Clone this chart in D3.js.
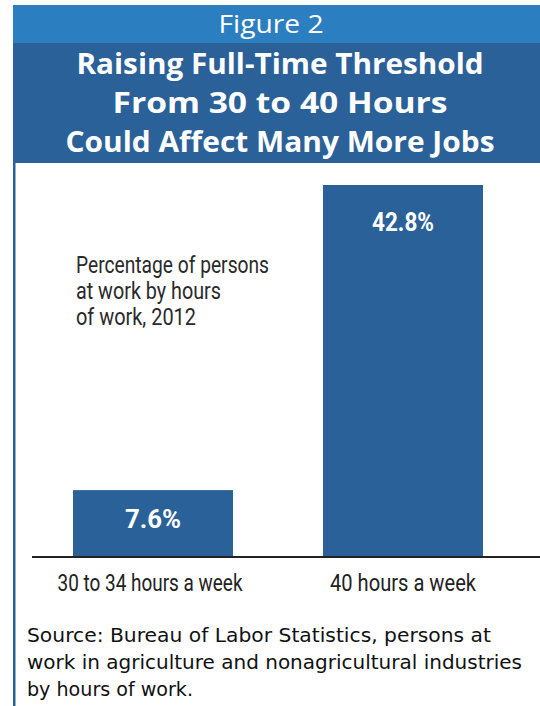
<!DOCTYPE html>
<html><head><meta charset="utf-8">
<script src="https://cdn.jsdelivr.net/npm/d3@7"></script>
<style>html,body{margin:0;padding:0;background:#fff;}</style>
</head><body>
<svg id="c" width="540" height="706"></svg>
<script>
const categories = ["30 to 34 hours a week", "40 hours a week"];
const values = [7.6, 42.8];
const valueLabels = ["7.6%", "42.8%"];
const figureLabel = "Figure 2";
const titleLines = ["Raising Full-Time Threshold", "From 30 to 40 Hours", "Could Affect Many More Jobs"];
const noteLines = ["Percentage of persons", "at work by hours", "of work, 2012"];
const sourceLines = ["Source: Bureau of Labor Statistics, persons at", "work in agriculture and nonagricultural industries", "by hours of work."];

const svg = d3.select("#c");
const narrow = "'Liberation Sans Narrow','Arial Narrow','Roboto','Noto Sans',sans-serif";

// header bands
svg.append("rect").attr("x", 13).attr("y", 5).attr("width", 527).attr("height", 38).attr("fill", "#2b7fc0");
svg.append("rect").attr("x", 13).attr("y", 43).attr("width", 527).attr("height", 120).attr("fill", "#2a6199");
svg.append("rect").attr("x", 13).attr("y", 163).attr("width", 2.5).attr("height", 543).attr("fill", "#2a6199");

svg.append("text").attr("x", 271).attr("y", 33).attr("text-anchor", "middle")
  .attr("fill", "#fff").attr("font-family", "'Open Sans','Noto Sans',sans-serif")
  .attr("font-size", 26).attr("textLength", 105).attr("lengthAdjust", "spacingAndGlyphs").text(figureLabel);

const titleW = [407, 335, 429];
svg.selectAll("text.title").data(titleLines).join("text").attr("class", "title")
  .attr("x", 280).attr("y", (d, i) => 74 + i * 39).attr("text-anchor", "middle")
  .attr("fill", "#fff").attr("font-family", "'Open Sans','Noto Sans',sans-serif")
  .attr("font-weight", "700").attr("font-size", 29)
  .attr("textLength", (d, i) => titleW[i]).attr("lengthAdjust", "spacingAndGlyphs")
  .text(d => d);

// chart
const x = d3.scaleBand().domain(categories).range([24, 532]).paddingInner(0.36).paddingOuter(0.196);
const y = d3.scaleLinear().domain([0, 42.8]).range([556, 185]);

svg.selectAll("rect.bar").data(values).join("rect").attr("class", "bar")
  .attr("x", (d, i) => x(categories[i])).attr("width", x.bandwidth())
  .attr("y", d => y(d)).attr("height", d => y(0) - y(d))
  .attr("fill", "#2a6199");

const labelOffset = [38, 46];
const valW = [56, 62];
svg.selectAll("text.val").data(values).join("text").attr("class", "val")
  .attr("x", (d, i) => x(categories[i]) + x.bandwidth() / 2).attr("y", (d, i) => y(d) + labelOffset[i])
  .attr("text-anchor", "middle").attr("fill", "#fff")
  .attr("font-family", narrow).attr("font-weight", "bold").attr("font-size", 25)
  .attr("textLength", (d, i) => valW[i]).attr("lengthAdjust", "spacingAndGlyphs")
  .text((d, i) => valueLabels[i]);

const xAxis = d3.axisBottom(x).tickSize(0).tickPadding(0);
const ax = svg.append("g").attr("transform", `translate(0,${y(0)})`).call(xAxis);
ax.select(".domain").attr("stroke", "#222").attr("stroke-width", 2).attr("d", "M32,1H540");
const labW = [185, 146];
const labDx = [-3, 0];
ax.selectAll(".tick text").attr("font-family", narrow).attr("font-size", 24).attr("fill", "#222")
  .attr("dy", 0).attr("y", 35)
  .attr("transform", (d, i) => `translate(${labDx[i]},0)`)
  .attr("textLength", (d, i) => labW[i]).attr("lengthAdjust", "spacingAndGlyphs");

const noteW = [193, 145, 120];
svg.selectAll("text.note").data(noteLines).join("text").attr("class", "note")
  .attr("x", 76).attr("y", (d, i) => 273 + i * 26)
  .attr("fill", "#2a2a2a").attr("font-family", narrow).attr("font-size", 24)
  .attr("textLength", (d, i) => noteW[i]).attr("lengthAdjust", "spacingAndGlyphs")
  .text(d => d);

const srcW = [464, 495, 166];
svg.selectAll("text.src").data(sourceLines).join("text").attr("class", "src")
  .attr("x", 27).attr("y", (d, i) => 642 + i * 27)
  .attr("fill", "#111").attr("font-family", "'DejaVu Sans',Verdana,sans-serif").attr("font-size", 20)
  .attr("textLength", (d, i) => srcW[i]).attr("lengthAdjust", "spacingAndGlyphs")
  .text(d => d);
</script>
</body></html>
